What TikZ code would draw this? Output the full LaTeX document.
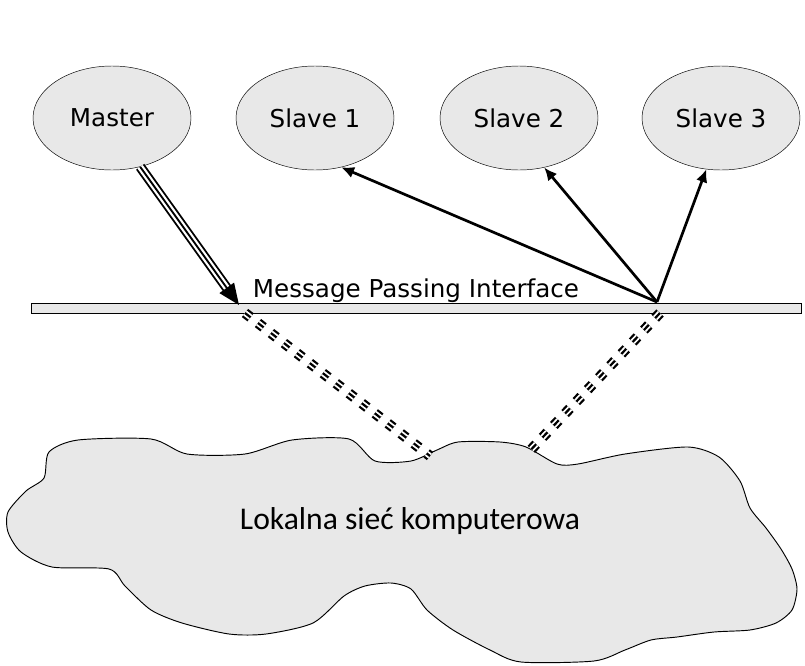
\documentclass[tikz,border=0pt]{standalone}
\usepackage{fontspec}
\setmainfont{DejaVu Sans}
\newfontfamily\cloudfont{Carlito}
\usetikzlibrary{shapes.geometric,arrows.meta}
\definecolor{boxgray}{RGB}{232,232,232}

\begin{document}
\begin{tikzpicture}[x=0.03cm,y=-0.03cm,
    proc/.style={draw,ellipse,fill=boxgray,minimum width=4.74cm,minimum height=3.12cm,font=\fontsize{21}{25}\selectfont},
    msgarrow/.style={line width=2.3pt,-{Latex[length=11pt,width=10pt]}},
    netline/.style={line width=1.9pt,dash pattern=on 6pt off 8pt}]
  \useasboundingbox (0,0) rectangle (805,665);

  % lokalna siec
  \draw[fill=boxgray,line width=0.8pt] plot[smooth cycle,tension=0.45] coordinates {
    (49,452) (78,440) (151,439) (187,454) (245,454) (292,440) (349,439)
    (375,461) (411,461) (437,450) (458,442) (500,442) (526,447) (557,464)
    (578,464) (625,454) (688,447) (719,457) (740,481) (750,508) (766,528)
    (781,549) (792,569) (797,589) (792,610) (776,623) (750,630) (714,632)
    (677,637) (651,640) (625,650) (594,661) (521,662) (490,650) (453,630)
    (427,610) (411,589) (391,583) (365,586) (344,596) (313,623) (266,634)
    (229,634) (182,623) (151,610) (125,586) (109,569) (52,567) (21,552)
    (8,532) (8,512) (26,491) (44,478)};
  \node[font=\cloudfont\fontsize{27}{32}\selectfont] (lan) at (410,521) {Lokalna sieć komputerowa};

  \node[proc] (master) at (112,118) {Master};
  \node[proc] (slave1) at (315,118) {Slave 1};
  \node[proc] (slave2) at (519,118) {Slave 2};
  \node[proc] (slave3) at (721,118) {Slave 3};

  \node[draw,fill=boxgray,minimum width=23.1cm,minimum height=0.3cm,inner sep=0pt] (mpi) at (416,308) {};
  \node[font=\fontsize{21}{25}\selectfont] (mpilabel) at (416,291) {Message Passing Interface};

  \coordinate (mpiL) at (239,305);
  \coordinate (mpiR) at (657,302);
  \coordinate (busL) at (245,313);
  \coordinate (busR) at (660,313);
  \coordinate (lanL) at (430,456);
  \coordinate (lanR) at (525,456);

  % master -> mpi
  \draw[line width=1.6pt,double=white,double distance=5.4pt,shorten >=12pt] (master.-60) -- (mpiL);
  \draw[line width=1.6pt,-{Triangle[length=18pt,width=15pt]}] (master.-60) -- (mpiL);

  % mpi -> slaves
  \draw[msgarrow] (mpiR) -- (slave1.-62);
  \draw[msgarrow] (mpiR) -- (slave2.-63);
  \draw[msgarrow] (mpiR) -- (slave3.-106);

  % mpi -- siec
  \foreach \a/\b in {busL/lanL,busR/lanR} {
    \draw[netline,double=white,double distance=5pt] (\a) -- (\b);
    \draw[netline] (\a) -- (\b);
  }
\end{tikzpicture}
\end{document}
